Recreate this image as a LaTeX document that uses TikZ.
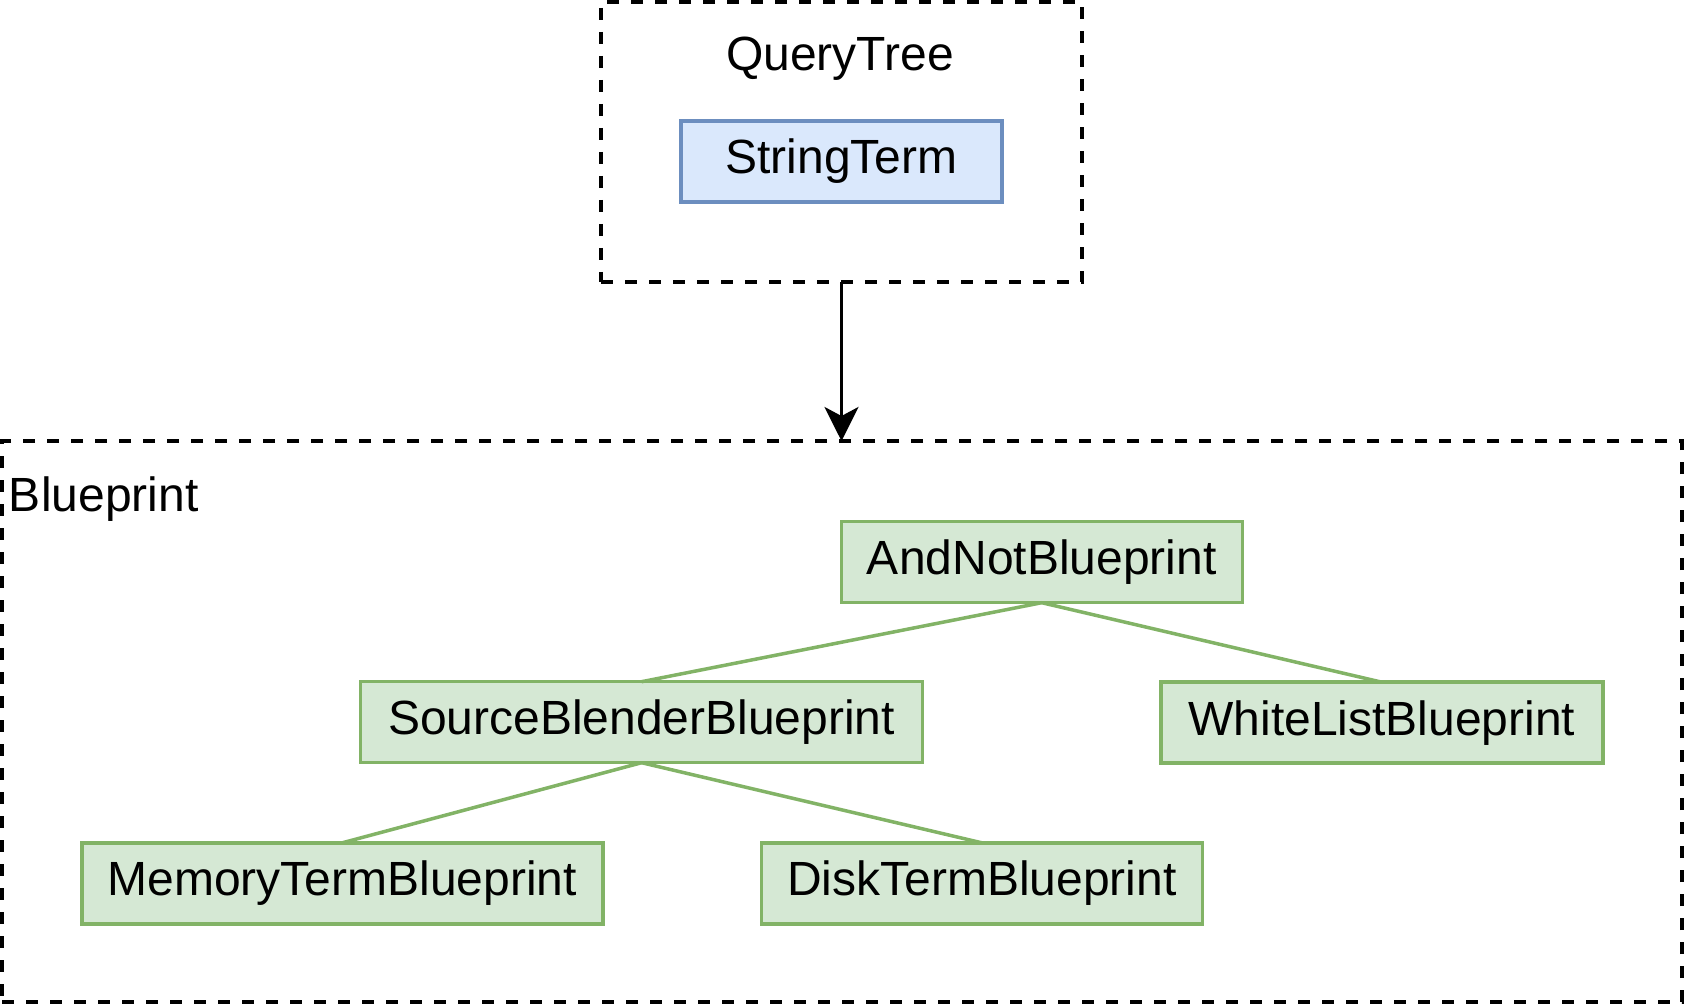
\documentclass[tikz,border=0pt]{standalone}
\usepackage{fontspec}
\setmainfont{Liberation Sans}
\usetikzlibrary{arrows.meta}
\definecolor{gfill}{HTML}{D5E8D4}
\definecolor{gline}{HTML}{82B366}
\definecolor{bfill}{HTML}{DAE8FC}
\definecolor{bline}{HTML}{6C8EBF}
\tikzset{
  lbl/.style={font=\fontsize{48}{57}\selectfont, inner sep=0, outer sep=0},
  container/.style={draw=black, line width=3.5pt, dash pattern=on 12pt off 12pt, inner sep=0, outer sep=0},
  greenbox/.style={lbl, draw=gline, fill=gfill, line width=3.5pt, minimum height=81pt},
  bluebox/.style={lbl, draw=bline, fill=bfill, line width=3.5pt, minimum height=81pt},
  tree/.style={draw=gline, line width=3.5pt},
  flow/.style={draw=black, line width=3.5pt, -{Stealth[length=34pt, width=34pt, inset=9pt]}}
}
\begin{document}
\begin{tikzpicture}[x=1pt, y=-1pt]
\useasboundingbox (0,0) rectangle (1688,1008);
% containers
\node[container, minimum width=481pt, minimum height=280pt] (qt) at (841.5,142) {};
\node[container, minimum width=1680pt, minimum height=561pt] (bp) at (842,721.5) {};
\node[lbl] (qtl) at (840,59) {QueryTree};
\node[lbl, anchor=base west] (bpl) at (9,511) {Blueprint};
% nodes
\node[bluebox, minimum width=321pt] (st) at (841.5,161.5) {StringTerm};
\node[greenbox, minimum width=401pt] (an) at (1041.75,562.2) {AndNotBlueprint};
\node[greenbox, minimum width=562pt] (sb) at (641.6,722.2) {SourceBlenderBlueprint};
\node[greenbox, minimum width=442pt] (wl) at (1381.8,722.7) {WhiteListBlueprint};
\node[greenbox, minimum width=521pt] (mt) at (342.3,883.3) {MemoryTermBlueprint};
\node[greenbox, minimum width=441pt] (dt) at (981.8,883.3) {DiskTermBlueprint};
% connectors
\draw[tree] (an.south) -- (sb.north);
\draw[tree] (an.south) -- (wl.north);
\draw[tree] (sb.south) -- (mt.north);
\draw[tree] (sb.south) -- (dt.north);
\draw[flow] (qt.south) -- (qt.south |- bp.north);
\end{tikzpicture}
\end{document}
